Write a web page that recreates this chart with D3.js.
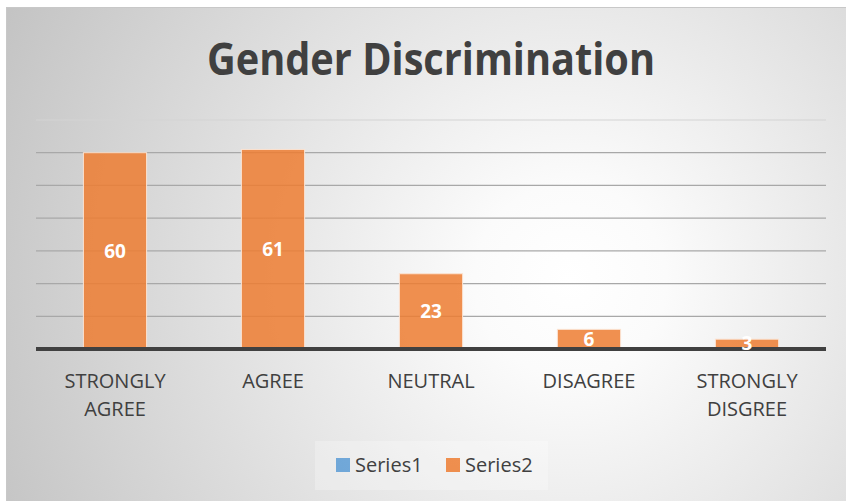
<!DOCTYPE html>
<html>
<head>
<meta charset="utf-8">
<script src="https://cdn.jsdelivr.net/npm/d3@7"></script>
<style>
  body { margin: 0; background: #fff; }
  text { font-family: "Open Sans", "Noto Sans", sans-serif; }
</style>
</head>
<body>
<svg width="846" height="501"></svg>
<script>
// chart data
var categories = ["STRONGLY AGREE", "AGREE", "NEUTRAL", "DISAGREE", "STRONGLY DISGREE"];
var series1 = [null, null, null, null, null];
var series2 = [60, 61, 23, 6, 3];
var seriesNames = ["Series1", "Series2"];
var seriesColors = ["#5b9bd5", "#ed7d31"];
var yTicks = [0, 10, 20, 30, 40, 50, 60, 70];

var margin = { top: 120, right: 20, bottom: 152, left: 36 },
    width = 846 - margin.left - margin.right,
    height = 501 - margin.top - margin.bottom;

var svg = d3.select("svg");

// background gradient
var defs = svg.append("defs");
var grad = defs.append("radialGradient")
    .attr("id", "bg")
    .attr("gradientUnits", "userSpaceOnUse")
    .attr("cx", 570).attr("cy", 280).attr("r", 640);
grad.append("stop").attr("offset", "0%").attr("stop-color", "#ffffff");
grad.append("stop").attr("offset", "15%").attr("stop-color", "#fbfbfb");
grad.append("stop").attr("offset", "100%").attr("stop-color", "#c2c2c2");

svg.append("rect")
    .attr("x", 6.5).attr("y", 7.5)
    .attr("width", 846).attr("height", 501)
    .attr("fill", "url(#bg)")
    .attr("stroke", "#c8c8c8");

// title
svg.append("text")
    .attr("x", 431).attr("y", 75)
    .attr("text-anchor", "middle")
    .attr("font-size", 44)
    .attr("font-weight", "bold")
    .attr("fill", "#404040")
    .attr("textLength", 448)
    .attr("lengthAdjust", "spacingAndGlyphs")
    .text("Gender Discrimination");

var g = svg.append("g")
    .attr("transform", "translate(" + margin.left + "," + margin.top + ")");

var x = d3.scaleBand()
    .domain(categories)
    .range([0, width]);

var y = d3.scaleLinear()
    .domain([0, 70])
    .range([height, 0]);

// gridlines
g.selectAll("line.grid")
    .data(yTicks.slice(1))
    .enter().append("line")
    .attr("class", "grid")
    .attr("x1", 0).attr("x2", width)
    .attr("y1", function (d) { return y(d); })
    .attr("y2", function (d) { return y(d); })
    .attr("stroke", function (d) { return d == 70 ? "#d4d4d4" : "#a8a8a8"; })
    .attr("stroke-width", 1.2);

// bars
var barW = x.bandwidth() * 0.4;
var data = categories.map(function (c, i) { return { cat: c, v: series2[i] }; });

g.selectAll("rect.bar")
    .data(data)
    .enter().append("rect")
    .attr("class", "bar")
    .attr("x", function (d) { return x(d.cat) + (x.bandwidth() - barW) / 2; })
    .attr("y", function (d) { return y(d.v); })
    .attr("width", barW)
    .attr("height", function (d) { return height - y(d.v); })
    .attr("fill", seriesColors[1])
    .attr("fill-opacity", 0.85)
    .attr("stroke", "#fbe3d2")
    .attr("stroke-width", 1);

// baseline
g.append("line")
    .attr("x1", 0).attr("x2", width)
    .attr("y1", y(0)).attr("y2", y(0))
    .attr("stroke", "#404040")
    .attr("stroke-width", 4);

// value labels
g.selectAll("text.val")
    .data(data)
    .enter().append("text")
    .attr("class", "val")
    .attr("x", function (d) { return x(d.cat) + x.bandwidth() / 2; })
    .attr("y", function (d) { return Math.min((y(d.v) + height) / 2, height - 6); })
    .attr("dy", "0.35em")
    .attr("text-anchor", "middle")
    .attr("font-size", 19)
    .attr("font-weight", "bold")
    .attr("fill", "#fff")
    .text(function (d) { return d.v; });

// category labels (wrapped)
var cat = g.selectAll("text.cat")
    .data(categories)
    .enter().append("text")
    .attr("class", "cat")
    .attr("text-anchor", "middle")
    .attr("font-size", 20)
    .attr("fill", "#404040")
    .attr("transform", function (d) {
        return "translate(" + (x(d) + x.bandwidth() / 2) + "," + (height + 39) + ")";
    });
cat.each(function (d) {
    var words = d.split(" ");
    var t = d3.select(this);
    words.forEach(function (w, i) {
        t.append("tspan").attr("x", 0).attr("y", i * 28).text(w);
    });
});

// legend
svg.append("rect")
    .attr("x", 315).attr("y", 441)
    .attr("width", 233).attr("height", 49)
    .attr("fill", "#ffffff").attr("fill-opacity", 0.25);

var legendX = [336, 446];
var legend = svg.selectAll("g.legend")
    .data(seriesNames)
    .enter().append("g")
    .attr("class", "legend")
    .attr("transform", function (d, i) { return "translate(" + legendX[i] + ",465)"; });

legend.append("rect")
    .attr("x", 0).attr("y", -7)
    .attr("width", 14).attr("height", 14)
    .attr("fill", function (d, i) { return seriesColors[i]; })
    .attr("fill-opacity", 0.85);

legend.append("text")
    .attr("x", 19).attr("dy", "0.35em")
    .attr("font-size", 20)
    .attr("fill", "#404040")
    .text(function (d) { return d; });
</script>
</body>
</html>
